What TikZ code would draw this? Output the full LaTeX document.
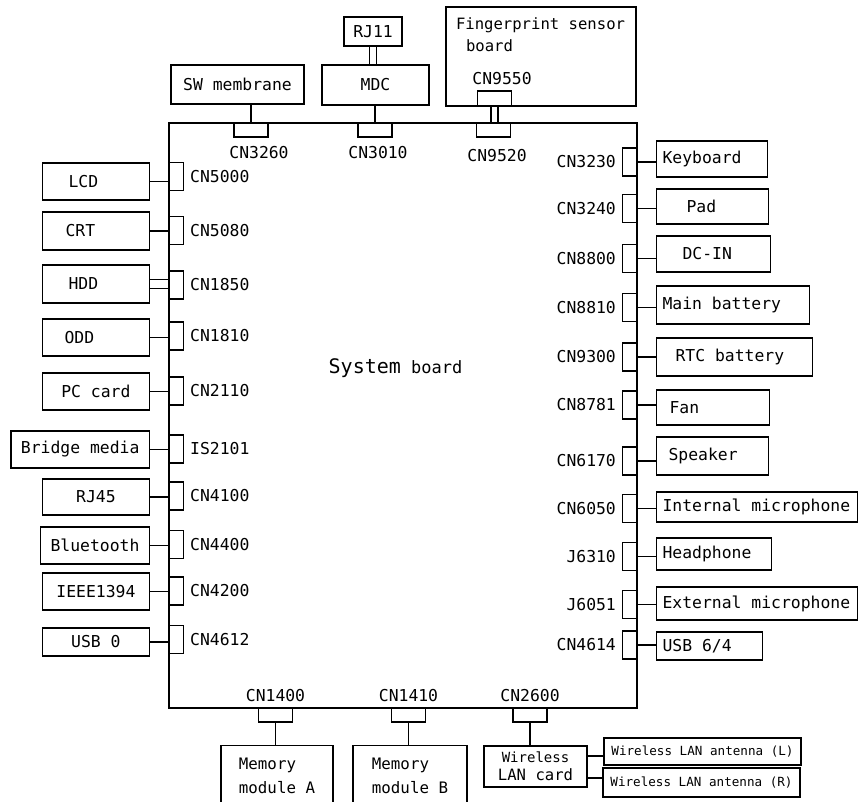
\documentclass[tikz,border=0pt]{standalone}
\usepackage{fontspec}
\setmainfont{DejaVu Sans Mono}
\usetikzlibrary{positioning}

\begin{document}
\begin{tikzpicture}[x=1pt, y=-1pt, line width=1.2pt,
  every node/.style={font=\fontsize{16.4}{19}\selectfont,
    execute at begin node={\spaceskip=0pt\xspaceskip=0pt}},
  part/.style={draw, minimum width=107pt, inner xsep=10pt, inner ysep=0pt},
  rpart/.style={draw, anchor=west, inner xsep=6pt, inner ysep=0pt, align=left},
  cnv/.style={draw, minimum width=14pt, minimum height=28pt, inner sep=0pt},
  cnh/.style={draw, minimum width=34pt, minimum height=14pt, inner sep=0pt},
  small/.style={font=\fontsize{12.6}{15}\selectfont}]

\clip (0,0) rectangle (861,802);

% Draw the system board
\node (sb) [draw, minimum width=468pt, minimum height=585pt, inner sep=0pt] at (403,415.5) {};
\node (sbtxt) [font=\fontsize{17}{20}\selectfont] at (395.5,368) {{\fontsize{20}{24}\selectfont System} board};

% Left side
\foreach \yb/\yc/\h/\name/\txt/\lbl in {
  181.5/176.5/37/lcd/{LCD\hspace*{25pt}}/CN5000,
  231/230.5/38/crt/{CRT\hspace*{31pt}}/CN5080,
  337.5/336/37/odd/{ODD\hspace*{33pt}}/CN1810,
  391.5/391/37/pccard/PC card/CN2110,
  449.5/449/37/bridge/Bridge media/IS2101,
  497/496/36/rj45/RJ45/CN4100,
  545.5/544.5/37/bt/Bluetooth/CN4400,
  591.5/591/37/ieee/IEEE1394/CN4200,
  642/639.5/28/usbz/USB 0/CN4612}
{
  \node (\name) [part, minimum height=\h pt, anchor=east] at (150,\yb) {\txt};
  \node (c\name) [cnv, anchor=west] at (169,\yc) {};
  \node (l\name) [right=2pt of c\name] {\lbl};
  \draw (\name.east) -- (\name.east -| sb.west);
}

% HDD has a double line
\node (hdd) [part, minimum height=38pt, anchor=east] at (150,284) {HDD\hspace*{25pt}};
\node (chdd) [cnv, anchor=west] at (169,285) {};
\node (lhdd) [right=2pt of chdd] {CN1850};
\draw ([yshift=4.5pt]hdd.east) -- ([yshift=4.5pt]hdd.east -| sb.west);
\draw ([yshift=-4.5pt]hdd.east) -- ([yshift=-4.5pt]hdd.east -| sb.west);

% Right side
\foreach \yb/\yc/\h/\w/\name/\txt/\lbl in {
  159/162/36/99/kbd/Keyboard/CN3230,
  206.5/208.5/35/100/pad/{\hspace*{24pt}Pad}/CN3240,
  254/258.5/36/102/dcin/{\hspace*{20pt}DC-IN}/CN8800,
  305/307.5/38/141/mbat/Main battery/CN8810,
  357/357/38/144/rtc/{\hspace*{13pt}RTC battery}/CN9300,
  407.5/405/35/101/fan/{\hspace*{7pt}Fan}/CN8781,
  456/461/38/100/spk/{\hspace*{6pt}Speaker}/CN6170,
  507/508.5/30/189/imic/Internal microphone/CN6050,
  554/556.5/32/103/hp/Headphone/J6310,
  603.5/604.5/33/189/emic/External microphone/J6051,
  646/645/28/94/usbsf/{USB 6/4}/CN4614}
{
  \node (c\name) [cnv, anchor=east] at (637,\yc) {};
  \node (\name) [rpart, text width=\w pt, minimum height=\h pt] at (656,\yb) {\txt};
  \node (l\name) [left=2pt of c\name] {\lbl};
  \draw (c\name.east) -- (c\name.east -| \name.west);
}

% Top side
\node (swm) [draw, minimum width=133pt, minimum height=39pt] at (237.5,84.5) {SW membrane};
\node (c3260) [cnh] at (251,130) {};
\node (l3260) [below=4.5pt of c3260, xshift=8pt] {CN3260};
\draw (c3260.north) -- (c3260.north |- swm.south);

\node (mdc) [draw, minimum width=107pt, minimum height=40pt] at (375.5,85) {MDC};
\node (rjel) [draw, minimum width=58pt, minimum height=29pt, inner sep=0pt] at (373,31.5) {RJ11};
\node (c3010) [cnh] at (375,130) {};
\node (l3010) [below=4.5pt of c3010, xshift=3pt] {CN3010};
\draw (c3010.north) -- (c3010.north |- mdc.south);
\draw ([xshift=-3.5pt]rjel.south) -- ([xshift=-3.5pt]rjel.south |- mdc.north);
\draw ([xshift=3.5pt]rjel.south) -- ([xshift=3.5pt]rjel.south |- mdc.north);

\node (fp) [draw, minimum width=190pt, minimum height=99pt] at (541,56.5) {};
\node (fptxt) [anchor=north west, align=left, inner xsep=10pt, inner ysep=11pt,
  font=\fontsize{15.6}{22}\selectfont] at (fp.north west) {Fingerprint sensor\\\hspace*{10pt}board};
\node (c9550) [cnh, minimum height=15pt] at (494.5,98.5) {};
\node (l9550) [above=1.5pt of c9550, xshift=7.5pt] {CN9550};
\node (c9520) [cnh] at (493.5,130) {};
\node (l9520) [below=8pt of c9520, xshift=3.5pt] {CN9520};
\draw ([xshift=-3.5pt]c9550.south) -- ([xshift=-3.5pt]c9550.south |- c9520.north);
\draw ([xshift=3.5pt]c9550.south) -- ([xshift=3.5pt]c9550.south |- c9520.north);

% Bottom side
\node (c1400) [cnh] at (275.5,715) {};
\node (l1400) [above=1.5pt of c1400] {CN1400};
\node (mema) [draw, anchor=north, minimum width=112pt, minimum height=60pt, align=left,
  font=\fontsize{15.8}{24}\selectfont] at (277,745) {Memory\\module A};
\draw (c1400.south) -- (c1400.south |- mema.north);

\node (c1410) [cnh] at (408.5,715) {};
\node (l1410) [above=1.5pt of c1410] {CN1410};
\node (memb) [draw, anchor=north, minimum width=114pt, minimum height=60pt, align=left,
  font=\fontsize{15.8}{24}\selectfont] at (410,745) {Memory\\module B};
\draw (c1410.south) -- (c1410.south |- memb.north);

\node (c2600) [cnh] at (530,715) {};
\node (l2600) [above=1.5pt of c2600] {CN2600};
\node (wlan) [draw, minimum width=103pt, minimum height=41pt, inner sep=0pt, align=center,
  font=\fontsize{15.6}{18}\selectfont] at (535.5,766.5) {{\fontsize{14}{18}\selectfont Wireless}\\LAN card};
\draw (c2600.south) -- (c2600.south |- wlan.north);

% Draw the antennas
\node (antl) [draw, small, minimum width=197pt, minimum height=27pt] at (702.5,751.5) {Wireless LAN antenna (L)};
\node (antr) [draw, small, minimum width=197pt, minimum height=29pt] at (701.5,782.5) {Wireless LAN antenna (R)};
\draw ([yshift=-4.5pt]antl.west) -- ([yshift=-4.5pt]antl.west -| wlan.east);
\draw ([yshift=4.5pt]antr.west) -- ([yshift=4.5pt]antr.west -| wlan.east);

\end{tikzpicture}
\end{document}
